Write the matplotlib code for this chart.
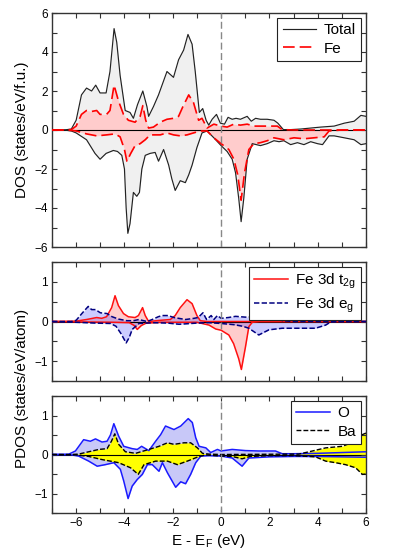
import matplotlib
matplotlib.use("Agg")
import matplotlib.pyplot as plt
from matplotlib.ticker import MultipleLocator

plt.rcParams['font.family'] = ['Liberation Sans', 'DejaVu Sans']
plt.rcParams['mathtext.fontset'] = 'custom'
plt.rcParams['mathtext.rm'] = 'Liberation Sans'
plt.rcParams['mathtext.it'] = 'Liberation Sans:italic'

# ---- Panel 1: total DOS and Fe DOS (spin up / spin down) ----
E_tot_up = [-7, -6.5, -6.2, -6.0, -5.78, -5.57, -5.36, -5.19, -5.01, -4.76, -4.6, -4.43, -4.32, -4.18, -3.97,
            -3.77, -3.63, -3.46, -3.24, -3.07, -3.0, -2.8, -2.59, -2.24, -1.97, -1.76, -1.55, -1.37, -1.2, -1.07,
            -0.9, -0.76, -0.62, -0.51, -0.37, -0.19, -0.03, 0.14, 0.29, 0.46, 0.62, 0.8, 1.08, 1.25, 1.43,
            1.63, 1.91, 2.19, 2.35, 2.58, 2.88, 3.3, 3.71, 4.13, 4.68, 5.1, 5.51, 5.79, 6.0]
tot_up = [0, 0.0, 0.05, 0.5, 1.8, 2.15, 2.0, 2.3, 1.9, 1.9, 3.0, 5.2, 4.5, 2.8, 1.0,
          0.9, 0.6, 1.3, 2.0, 1.2, 0.7, 1.2, 1.8, 3.0, 2.7, 3.6, 4.1, 4.9, 4.4, 3.0,
          0.9, 1.1, 0.5, 0.25, 0.55, 0.8, 0.35, 0.3, 0.65, 0.55, 0.6, 0.55, 0.7, 0.45, 0.6,
          0.55, 0.55, 0.5, 0.35, 0.02, 0.02, 0.05, 0.1, 0.15, 0.2, 0.35, 0.45, 0.75, 0.7]
E_tot_dn = [-7, -6.5, -6.2, -6.0, -5.57, -5.22, -5.01, -4.76, -4.46, -4.29, -4.11, -4.0, -3.93, -3.86, -3.77,
            -3.63, -3.49, -3.38, -3.28, -3.14, -2.94, -2.73, -2.59, -2.38, -2.17, -2.04, -1.9, -1.69, -1.48, -1.34,
            -1.2, -1.0, -0.79, -0.58, -0.3, 0.0, 0.25, 0.46, 0.6, 0.73, 0.83, 0.94, 1.08, 1.29, 1.63,
            1.91, 2.19, 2.4, 2.6, 2.88, 3.16, 3.43, 3.71, 3.99, 4.2, 4.47, 4.68, 5.1, 5.51, 5.79, 6.0]
tot_dn = [0, 0, -0.05, -0.15, -0.5, -1.2, -1.5, -1.2, -1.05, -1.1, -1.3, -2.0, -4.0, -5.3, -4.8,
          -3.2, -3.4, -3.2, -2.0, -1.3, -1.2, -1.15, -1.6, -1.0, -1.8, -2.5, -3.1, -2.6, -2.7, -2.3,
          -1.8, -0.9, -0.15, -0.05, -0.4, -0.8, -1.1, -1.5, -2.2, -3.5, -4.7, -3.5, -1.5, -0.7, -0.8,
          -0.7, -0.55, -0.6, -0.55, -0.75, -0.65, -0.75, -0.6, -0.7, -0.75, -0.3, -0.3, -0.4, -0.5, -0.75, -0.7]
E_fe_up = [-7, -6.5, -6.2, -6.0, -5.78, -5.57, -5.36, -5.15, -5.01, -4.74, -4.6, -4.43, -4.25, -4.04, -3.84,
           -3.56, -3.35, -3.24, -3.12, -3.0, -2.8, -2.52, -2.24, -1.97, -1.76, -1.58, -1.34, -1.14, -0.93, -0.79,
           -0.58, -0.3, 0.0, 0.25, 0.53, 0.8, 1.08, 1.36, 1.91, 2.33, 2.53, 3.0, 6.0]
fe_up = [0, 0, 0.02, 0.2, 0.8, 1.0, 0.95, 1.0, 0.8, 0.8, 1.0, 2.3, 1.5, 0.8, 0.5,
         0.4, 0.7, 1.25, 0.5, 0.1, 0.15, 0.4, 0.55, 0.6, 0.7, 1.2, 1.8, 1.4, 0.5, 0.6,
         0.1, 0.3, 0.2, 0.15, 0.3, 0.25, 0.3, 0.2, 0.2, 0.2, 0.02, 0, 0]
E_fe_dn = [-7, -6.5, -6.2, -6.0, -5.57, -5.15, -4.74, -4.39, -4.18, -4.0, -3.9, -3.74, -3.56, -3.35, -3.14,
           -2.94, -2.52, -2.24, -1.97, -1.69, -1.41, -1.14, -0.86, -0.58, -0.3, 0.0, 0.32, 0.53, 0.69, 0.83,
           0.97, 1.15, 1.36, 1.63, 1.91, 2.19, 2.6, 3.02, 3.43, 3.85, 4.27, 4.47, 5.0, 6.0]
fe_dn = [0, 0, -0.02, -0.05, -0.2, -0.3, -0.25, -0.2, -0.35, -1.0, -1.6, -1.2, -0.8, -0.7, -0.5,
         -0.25, -0.25, -0.15, -0.25, -0.3, -0.25, -0.15, -0.05, -0.05, -0.4, -0.7, -1.0, -1.5, -2.3, -3.6,
         -2.2, -1.0, -0.7, -0.65, -0.55, -0.4, -0.5, -0.4, -0.45, -0.4, -0.35, -0.05, 0, 0]

# ---- Panel 2: Fe 3d t2g / eg ----
E_t2g_up = [-7, -6.0, -5.57, -5.15, -4.94, -4.74, -4.53, -4.39, -4.25, -4.04, -3.84, -3.56, -3.42, -3.25, -3.14,
            -3.0, -2.52, -2.1, -1.9, -1.69, -1.41, -1.2, -1.0, -0.86, -0.58, 6.0]
t2g_up = [0, 0.01, 0.05, 0.1, 0.08, 0.12, 0.35, 0.65, 0.4, 0.2, 0.12, 0.1, 0.15, 0.35, 0.15,
          0.0, 0.03, 0.05, 0.15, 0.35, 0.55, 0.45, 0.15, 0.02, 0.0, 0.0]
E_t2g_dn = [-7, -6.0, -4.5, -3.8, -3.6, -3.47, -3.3, -3.1, -2.5, -1.0, -0.5, -0.22, 0.0, 0.32, 0.52,
            0.73, 0.84, 1.01, 1.15, 1.29, 1.6, 6.0]
t2g_dn = [0, -0.01, -0.02, -0.03, -0.1, -0.2, -0.1, -0.04, -0.02, -0.02, -0.09, -0.19, -0.22, -0.34, -0.56,
          -0.94, -1.21, -0.64, -0.13, -0.02, 0.0, 0.0]
E_eg_up = [-7, -6.2, -6.0, -5.75, -5.5, -5.36, -5.2, -5.0, -4.72, -4.51, -4.24, -3.9, -3.63, -3.4, -3.07,
           -2.85, -2.6, -2.44, -2.2, -1.95, -1.47, -1.12, -0.95, -0.75, -0.6, -0.41, -0.3, -0.15, 0.0, 0.3,
           0.6, 1.0, 1.5, 1.84, 2.2, 2.39, 2.53, 3.0, 6.0]
eg_up = [0, 0, 0.03, 0.21, 0.38, 0.3, 0.3, 0.22, 0.2, 0.12, 0.06, 0.02, 0.02, 0.05, 0.0,
         0.05, 0.12, 0.15, 0.15, 0.1, 0.05, 0.08, 0.1, 0.22, 0.05, 0.15, 0.05, 0.15, 0.08, 0.1,
         0.13, 0.11, 0.12, 0.13, 0.12, 0.12, 0.02, 0, 0]
E_eg_dn = [-7, -6.0, -5.2, -4.58, -4.35, -4.15, -3.93, -3.8, -3.68, -3.4, -2.8, -2.2, -1.74, -1.0, -0.5,
           0.0, 0.53, 0.9, 1.15, 1.56, 1.98, 2.53, 3.22, 3.91, 4.33, 4.54, 5.0, 6.0]
eg_dn = [0, -0.02, -0.04, -0.05, -0.12, -0.3, -0.54, -0.4, -0.2, -0.05, -0.03, -0.04, -0.07, -0.04, -0.03,
         -0.05, -0.08, -0.12, -0.17, -0.34, -0.21, -0.17, -0.17, -0.17, -0.09, -0.01, 0, 0]

# ---- Panel 3: O and Ba ----
E_O_up = [-7, -6.3, -6.03, -5.69, -5.41, -5.2, -4.93, -4.72, -4.58, -4.44, -4.24, -4.03, -3.68, -3.47, -3.29,
          -2.99, -2.71, -2.5, -2.3, -1.95, -1.67, -1.36, -1.19, -1.05, -0.91, -0.63, -0.43, -0.15, 0.0, 0.46,
          1.01, 1.56, 2.25, 2.53, 3.0, 4.0, 5.0, 6.0]
O_up = [0, 0.01, 0.09, 0.38, 0.34, 0.4, 0.32, 0.34, 0.5, 0.79, 0.47, 0.21, 0.15, 0.13, 0.21,
        0.1, 0.34, 0.51, 0.73, 0.64, 0.73, 0.92, 0.82, 0.43, 0.21, 0.17, 0.05, 0.13, 0.09, 0.13,
        0.1, 0.09, 0.09, 0.02, 0.02, 0.03, 0.05, 0.07]
E_O_dn = [-7, -6.2, -5.9, -5.48, -5.13, -4.79, -4.44, -4.17, -4.03, -3.85, -3.68, -3.47, -3.26, -3.05, -2.85,
          -2.57, -2.43, -2.22, -1.88, -1.67, -1.47, -1.26, -1.05, -0.84, -0.5, 0.0, 0.46, 0.87, 1.15, 2.0,
          3.0, 4.0, 5.0, 6.0]
O_dn = [0, -0.01, -0.04, -0.17, -0.3, -0.26, -0.21, -0.38, -0.68, -1.13, -0.81, -0.64, -0.51, -0.26, -0.26,
        -0.43, -0.21, -0.47, -0.84, -0.7, -0.75, -0.51, -0.21, -0.04, -0.03, -0.04, -0.09, -0.3, -0.09, -0.06,
        -0.05, -0.05, -0.06, -0.07]
E_Ba_up = [-7, -6.2, -5.9, -5.48, -5.06, -4.72, -4.54, -4.4, -4.24, -3.96, -3.54, -2.99, -2.57, -2.22, -1.95,
           -1.54, -1.26, -0.98, -0.77, -0.5, 0.0, 3.22, 3.78, 4.33, 5.02, 5.57, 5.85, 6.0]
Ba_up = [0, 0, 0.01, 0.07, 0.13, 0.15, 0.34, 0.53, 0.26, 0.07, 0.03, 0.13, 0.21, 0.3, 0.26,
         0.3, 0.3, 0.17, 0.03, 0.01, 0, 0.01, 0.09, 0.17, 0.21, 0.34, 0.51, 0.55]
E_Ba_dn = [-7, -6.0, -5.48, -4.93, -4.24, -3.75, -3.43, -3.19, -2.71, -2.22, -1.81, -1.4, -0.91, -0.63, 0.0,
           0.46, 0.87, 1.2, 2.0, 3.0, 3.91, 4.33, 4.74, 5.15, 5.57, 5.85, 6.0]
Ba_dn = [0, -0.01, -0.05, -0.13, -0.21, -0.34, -0.51, -0.26, -0.17, -0.17, -0.26, -0.17, -0.05, -0.01, -0.04,
         -0.05, -0.11, -0.05, -0.03, -0.03, -0.06, -0.17, -0.21, -0.26, -0.34, -0.51, -0.5]

xticks = [-6, -4, -2, 0, 2, 4, 6]

W, H = 395, 550
fig = plt.figure(figsize=(W / 100, H / 100), dpi=100)


def rect(l, t, r, b):
    return [l / W, 1 - b / H, (r - l) / W, (b - t) / H]


ax1 = fig.add_axes(rect(52, 13, 366, 247))
ax2 = fig.add_axes(rect(52, 262, 366, 381))
ax3 = fig.add_axes(rect(52, 396, 366, 513))

FS_TICK = 8.5
FS_LAB = 11


def style(ax, ylim, ymaj, ymin):
    ax.set_xlim(-7, 6)
    ax.set_ylim(*ylim)
    ax.xaxis.set_major_locator(MultipleLocator(2))
    ax.xaxis.set_minor_locator(MultipleLocator(1))
    ax.yaxis.set_major_locator(MultipleLocator(ymaj))
    ax.yaxis.set_minor_locator(MultipleLocator(ymin))
    ax.tick_params(which='both', direction='in', top=True, right=True, length=3.5,
                   width=0.8, color='#333333', labelsize=FS_TICK, pad=3)
    for s in ax.spines.values():
        s.set_linewidth(1.0)
        s.set_color('#333333')
    ax.axvline(0, color='#888888', lw=1.0, ls=(0, (5, 2.5)), zorder=5)
    ax.axhline(0, color='black', lw=0.8, zorder=1)


# Panel 1
ax1.fill_between(E_tot_up, tot_up, 0, color='#f0f0f0', lw=0, zorder=0)
ax1.fill_between(E_tot_dn, tot_dn, 0, color='#f0f0f0', lw=0, zorder=0)
ax1.fill_between(E_fe_up, fe_up, 0, color='#ffcccc', lw=0, zorder=0.5)
ax1.fill_between(E_fe_dn, fe_dn, 0, color='#ffcccc', lw=0, zorder=0.5)
ax1.plot(E_tot_up, tot_up, color='#222222', lw=0.85, zorder=3, label='Total')
ax1.plot(E_tot_dn, tot_dn, color='#222222', lw=0.85, zorder=3)
ax1.plot(E_fe_up, fe_up, color='#ff0000', lw=1.2, ls=(0, (7, 3)), zorder=4, label='Fe')
ax1.plot(E_fe_dn, fe_dn, color='#ff0000', lw=1.2, ls=(0, (7, 3)), zorder=4)
style(ax1, (-6, 6), 2, 1)
ax1.set_xticks(xticks)
ax1.tick_params(labelbottom=False)
ax1.set_ylabel('DOS (states/eV/f.u.)', fontsize=FS_LAB, labelpad=4)

# Panel 2
ax2.fill_between(E_t2g_up, t2g_up, 0, color='#ff0000', alpha=0.2, lw=0, zorder=0.5)
ax2.fill_between(E_t2g_dn, t2g_dn, 0, color='#ff0000', alpha=0.2, lw=0, zorder=0.5)
ax2.fill_between(E_eg_up, eg_up, 0, color='#0000ff', alpha=0.2, lw=0, zorder=0.5)
ax2.fill_between(E_eg_dn, eg_dn, 0, color='#0000ff', alpha=0.2, lw=0, zorder=0.5)
ax2.plot(E_t2g_up, t2g_up, color='#ff1010', lw=1.1, zorder=3, label=r'Fe 3d t$_\mathregular{2g}$')
ax2.plot(E_t2g_dn, t2g_dn, color='#ff1010', lw=1.1, zorder=3)
ax2.plot(E_eg_up, eg_up, color='#000080', lw=1.1, ls=(0, (3.5, 1.5)), zorder=4, label=r'Fe 3d e$_\mathregular{g}$')
ax2.plot(E_eg_dn, eg_dn, color='#000080', lw=1.1, ls=(0, (3.5, 1.5)), zorder=4)
style(ax2, (-1.5, 1.5), 1, 0.5)
ax2.set_xticks(xticks)
ax2.tick_params(labelbottom=False)

# Panel 3
ax3.fill_between(E_O_up, O_up, 0, color='#c8c8f8', lw=0, zorder=0.3)
ax3.fill_between(E_O_dn, O_dn, 0, color='#c8c8f8', lw=0, zorder=0.3)
ax3.fill_between(E_Ba_up, Ba_up, 0, color='#ffff00', lw=0, zorder=0.6)
ax3.fill_between(E_Ba_dn, Ba_dn, 0, color='#ffff00', lw=0, zorder=0.6)
ax3.plot(E_O_up, O_up, color='#1a1aff', lw=1.1, zorder=3, label='O')
ax3.plot(E_O_dn, O_dn, color='#1a1aff', lw=1.1, zorder=3)
ax3.plot(E_Ba_up, Ba_up, color='black', lw=1.0, ls=(0, (3.5, 1.5)), zorder=4, label='Ba')
ax3.plot(E_Ba_dn, Ba_dn, color='black', lw=1.0, ls=(0, (3.5, 1.5)), zorder=4)
style(ax3, (-1.5, 1.5), 1, 0.5)
ax3.set_xticks(xticks)
ax3.set_xlabel(r'E - E$_\mathregular{F}$ (eV)', fontsize=FS_LAB, labelpad=2)

fig.text(22 / W, 1 - 388 / H, 'PDOS (states/eV/atom)', rotation=90, fontsize=FS_LAB,
         ha='center', va='center')

for ax in (ax1, ax2, ax3):
    leg = ax.legend(loc='upper right', fontsize=FS_LAB, frameon=True, fancybox=False,
                    edgecolor='#222222', framealpha=1, borderaxespad=0.3, handlelength=2.2,
                    handletextpad=0.5, borderpad=0.35, labelspacing=0.3)
    leg.get_frame().set_linewidth(0.8)
    leg.set_zorder(10)

fig.savefig('out.png', dpi=100)
